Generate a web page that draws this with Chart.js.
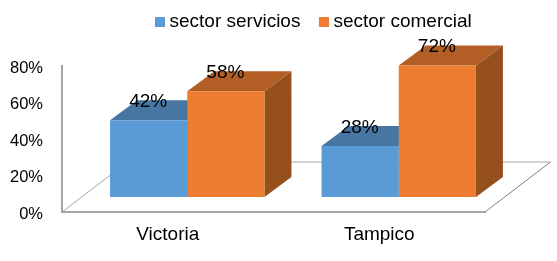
<!DOCTYPE html>
<html><head><meta charset="utf-8">
<style>html,body{margin:0;padding:0;background:#fff}#w{position:absolute;left:0;top:0;width:557px;height:261px}</style>
<script src="https://cdn.jsdelivr.net/npm/chart.js@4"></script>
</head><body><div id="w"><canvas id="c" width="557" height="261"></canvas></div>
<script>
const categories = ['Victoria', 'Tampico'];
const sectorServicios = [42, 28];
const sectorComercial = [58, 72];
const seriesNames = ['sector servicios', 'sector comercial'];
const fronts = ['#5B9BD5', '#ED7D31'];
const tops = ['#4676A1', '#B25E25'];
const sides = ['#3F6A91', '#96501E'];
const FONT = 'Arial, "Liberation Sans", sans-serif';
const shift = {x: 19.5, y: -15}, depth = {x: 27, y: -20};
const floorDepth = {x: 65.5, y: -50};

function swatch(color) {
  const c = document.createElement('canvas'); c.width = 15; c.height = 10;
  const g = c.getContext('2d'); g.fillStyle = color; g.fillRect(5, 0, 10, 10);
  return c;
}
function poly(ctx, pts, fill) {
  ctx.beginPath(); pts.forEach((p, i) => i ? ctx.lineTo(p[0], p[1]) : ctx.moveTo(p[0], p[1]));
  ctx.closePath(); ctx.fillStyle = fill; ctx.fill();
}
const box3d = {
  id: 'box3d',
  afterLayout(chart) {
    const l = chart.legend; const w = l.right - l.left;
    l.left = 155 - l.options.labels.padding; l.right = l.left + w; l.top = -6.5;
  },
  beforeDatasetsDraw(chart) {
    const ctx = chart.ctx, a = chart.chartArea;
    ctx.save();
    ctx.strokeStyle = '#a6a6a6'; ctx.lineWidth = 1;
    ctx.beginPath();
    ctx.moveTo(a.left, a.bottom); ctx.lineTo(a.left + floorDepth.x, a.bottom + floorDepth.y);
    ctx.lineTo(a.right + floorDepth.x, a.bottom + floorDepth.y);
    ctx.stroke();
    ctx.strokeStyle = '#7f7f7f';
    ctx.beginPath();
    ctx.moveTo(a.right + floorDepth.x, a.bottom + floorDepth.y); ctx.lineTo(a.right, a.bottom);
    ctx.stroke();
    chart.data.datasets.forEach((d, i) => {
      chart.getDatasetMeta(i).data.forEach(b => {
        const p = b.getProps(['x', 'y', 'base', 'width'], true);
        const L = p.x - p.width / 2 + shift.x, R = p.x + p.width / 2 + shift.x;
        const T = p.y + shift.y, B = p.base + shift.y;
        poly(ctx, [[R, T], [R + depth.x, T + depth.y], [R + depth.x, B + depth.y], [R, B]], sides[i]);
        poly(ctx, [[L, T], [R, T], [R + depth.x, T + depth.y], [L + depth.x, T + depth.y]], tops[i]);
      });
    });
    ctx.restore();
  },
  beforeDatasetDraw(chart) { chart.ctx.save(); chart.ctx.translate(shift.x, shift.y); },
  afterDatasetDraw(chart) { chart.ctx.restore(); },
  afterDatasetsDraw(chart) {
    const ctx = chart.ctx;
    ctx.save();
    ctx.font = '19px ' + FONT; ctx.fillStyle = '#000';
    ctx.textAlign = 'center'; ctx.textBaseline = 'middle';
    chart.data.datasets.forEach((d, i) => {
      chart.getDatasetMeta(i).data.forEach((b, j) => {
        const p = b.getProps(['x', 'y'], true);
        ctx.fillText(d.data[j] + '%', p.x + shift.x - 0.5, p.y + shift.y - 18.5);
      });
    });
    ctx.restore();
  }
};
new Chart(document.getElementById('c'), {
  type: 'bar',
  data: {
    labels: categories,
    datasets: [
      {label: seriesNames[0], data: sectorServicios, backgroundColor: fronts[0]},
      {label: seriesNames[1], data: sectorComercial, backgroundColor: fronts[1]}
    ]
  },
  plugins: [box3d],
  options: {
    responsive: false, animation: false,
    categoryPercentage: 0.73, barPercentage: 1,
    layout: {padding: {top: 18.5, right: 72, bottom: 0, left: 0}},
    datasets: {bar: {clip: false}},
    plugins: {
      tooltip: {enabled: false},
      legend: {
        position: 'top', align: 'start',
        labels: {
          boxWidth: 5, boxHeight: 10, usePointStyle: true, padding: 18.5, color: '#000',
          font: {family: FONT, size: 19},
          generateLabels: ch => ch.data.datasets.map((d, i) => ({
            text: d.label, pointStyle: swatch(fronts[i]), fillStyle: fronts[i],
            strokeStyle: 'transparent', lineWidth: 0, datasetIndex: i, hidden: false
          }))
        }
      }
    },
    scales: {
      x: {
        grid: {display: false},
        border: {color: '#a6a6a6', width: 2},
        ticks: {color: '#000', font: {family: FONT, size: 19}, padding: 3, maxRotation: 0},
        afterFit: s => { s.height = 49; }
      },
      y: {
        min: 0, max: 80,
        grid: {display: false},
        border: {color: '#a6a6a6', width: 2},
        ticks: {stepSize: 20, color: '#000', font: {family: FONT, size: 16.5, lineHeight: '4px'}, padding: 11, callback: v => ['', v + '%']},
        afterFit: s => { s.width = 62; }
      }
    }
  }
});
</script></body></html>
